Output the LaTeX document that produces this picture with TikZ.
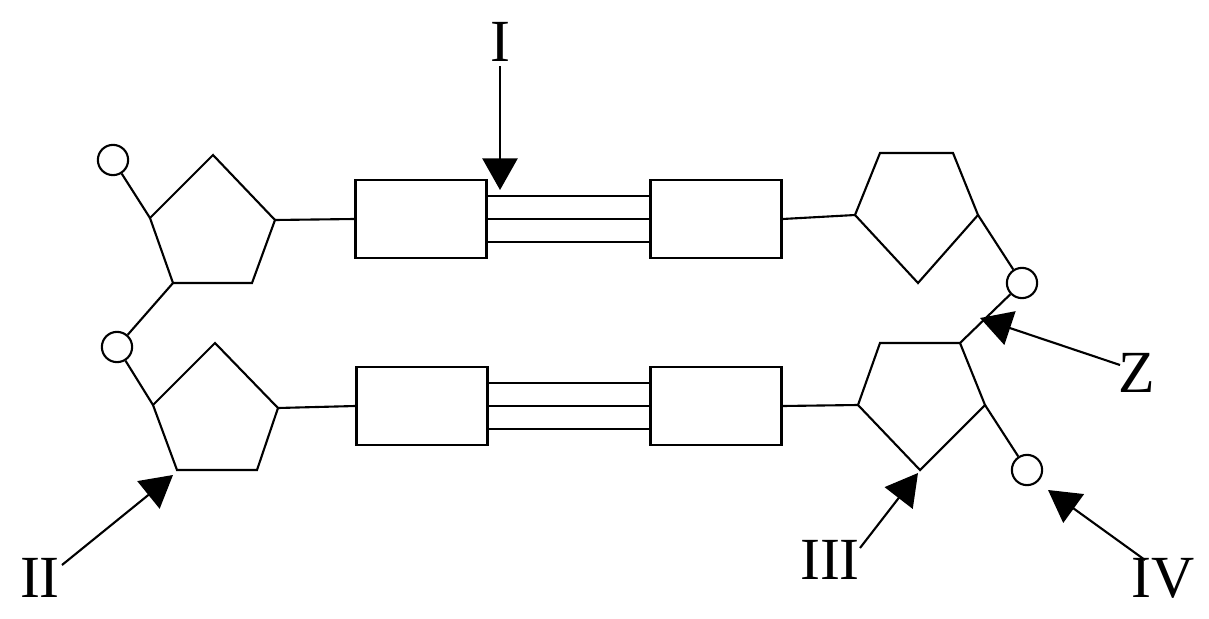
\documentclass[tikz,border=0pt]{standalone}
\usepackage{fontspec}
\setmainfont{Liberation Serif}
\usetikzlibrary{arrows.meta}
\tikzset{
  ln/.style={line width=0.6pt},
  dot/.style={ln, draw, circle, minimum size=8.6pt, inner sep=0pt, fill=white},
  base/.style={ln, draw, rectangle, minimum width=1.31cm, minimum height=0.78cm},
  lbl/.style={font=\fontsize{17}{17}\selectfont},
  ptr/.style={line width=0.6pt, -{Triangle[length=9pt, width=10pt]}}
}
\begin{document}
\begin{tikzpicture}[x=0.01cm, y=-0.01cm]
  \useasboundingbox (0,0) rectangle (1209,618);
  %sugars
  \coordinate (a1) at (213,155); \coordinate (a2) at (275,220); \coordinate (a3) at (252,283);
  \coordinate (a4) at (173,283); \coordinate (a5) at (150,218);
  \coordinate (b1) at (215,343); \coordinate (b2) at (278,408); \coordinate (b3) at (257,470);
  \coordinate (b4) at (177,470); \coordinate (b5) at (153,405);
  \coordinate (c1) at (880,153); \coordinate (c2) at (953,153); \coordinate (c3) at (978,215);
  \coordinate (c4) at (918,283); \coordinate (c5) at (855,215);
  \coordinate (d1) at (880,343); \coordinate (d2) at (960,343); \coordinate (d3) at (985,405);
  \coordinate (d4) at (920,470); \coordinate (d5) at (858,405);
  \foreach \s in {a,b,c,d} {
    \draw[ln] (\s1) -- (\s2) -- (\s3) -- (\s4) -- (\s5) -- cycle;
  }
  %phosphates
  \node[dot] (p1) at (113,160) {};
  \node[dot] (p2) at (117,347) {};
  \node[dot] (p3) at (1022,283) {};
  \node[dot] (p4) at (1027,470) {};
  \draw[ln] (p1) -- (a5);
  \draw[ln] (a4) -- (p2) -- (b5);
  \draw[ln] (c3) -- (p3) -- (d2);
  \draw[ln] (d3) -- (p4);
  %bases
  \node[base] (r1) at (421,219) {};
  \node[base] (r2) at (716,219) {};
  \node[base] (r3) at (422,406) {};
  \node[base] (r4) at (716,406) {};
  \draw[ln] (a2) -- (r1.west);
  \draw[ln] (r2.east) -- (c5);
  \draw[ln] (b2) -- (r3.west);
  \draw[ln] (r4.east) -- (d5);
  \foreach \d in {-23,0,23} {
    \draw[ln] ([yshift=\d*0.01cm]r1.east) -- ([yshift=\d*0.01cm]r2.west);
    \draw[ln] ([yshift=\d*0.01cm]r3.east) -- ([yshift=\d*0.01cm]r4.west);
  }
  %labels
  \node[lbl] (l1) at (500,42) {I};
  \node[lbl] (l2) at (40,578) {II};
  \node[lbl] (l3) at (830,560) {III};
  \node[lbl] (l4) at (1163,578) {IV};
  \node[lbl] (lz) at (1137,373) {Z};
  \coordinate (t1) at (500,190);
  \coordinate (t2) at (173,475);
  \coordinate (t3) at (918,473);
  \coordinate (t4) at (1048,490);
  \coordinate (tz) at (980,318);
  \draw[ptr] (500,66) -- (t1);
  \draw[ptr] (62,565) -- (t2);
  \draw[ptr] (860,548) -- (t3);
  \draw[ptr] (1145,560) -- (t4);
  \draw[ptr] (1120,365) -- (tz);
\end{tikzpicture}
\end{document}
